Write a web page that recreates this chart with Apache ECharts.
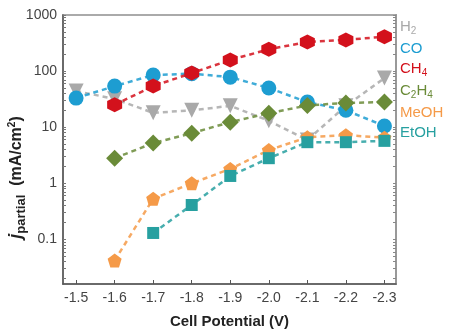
<!DOCTYPE html>
<html>
<head>
<meta charset="utf-8">
<script src="https://cdn.jsdelivr.net/npm/echarts@6/dist/echarts.min.js"></script>
<style>
  html, body { margin: 0; padding: 0; background: #fff; }
  #chart { width: 453px; height: 336px; }
</style>
</head>
<body>
<div id="chart"></div>
<script>
// cell potential (V)
var potentials = [-1.5, -1.6, -1.7, -1.8, -1.9, -2.0, -2.1, -2.2, -2.3];
// partial current densities (mA/cm2), null = not measured
var h2   = [44, 32, 18, 20, 24, 13, 5.9, 24, 75];
var co   = [33, 54, 85, 90, 78, 50, 28, 20, 10.5];
var ch4  = [null, 25, 54, 92, 158, 245, 330, 360, 410];
var c2h4 = [null, 2.8, 5.2, 7.8, 12.3, 17.8, 24.4, 27, 28];
var meoh = [null, 0.042, 0.53, 1.0, 1.8, 3.9, 6.6, 7.2, 6.5];
var etoh = [null, null, 0.13, 0.41, 1.35, 2.8, 5.4, 5.4, 5.7];

var yLabels = [0.1, 1, 10, 100, 1000];
var yMinor = [];
[0.01, 0.1, 1, 10, 100].forEach(function (d) {
  for (var k = 1; k <= 9; k++) yMinor.push(+(d * k).toPrecision(3));
});
yMinor.push(1000);

var hexagon = 'path://M0,-10 L8.66,-5 L8.66,5 L0,10 L-8.66,5 L-8.66,-5 Z';
var pentagon = 'path://M0,-10 L9.51,-3.09 L5.88,8.09 L-5.88,8.09 L-9.51,-3.09 Z';

var chart = echarts.init(document.getElementById('chart'), null, { renderer: 'canvas' });

function pairs(vals) {
  return potentials.map(function (p, i) { return [p, vals[i]]; }).filter(function (d) { return d[1] != null; });
}

function line(name, vals, color, symbol, size) {
  return {
    name: name,
    type: 'line',
    data: pairs(vals),
    symbol: symbol,
    symbolSize: size,
    itemStyle: { color: color },
    lineStyle: { color: color, width: 2.5, type: [5, 4], opacity: 0.85 },
    z: 2
  };
}

var names = ['H2', 'CO', 'CH4', 'C2H4', 'MeOH', 'EtOH'];
var colors = ['#a9a9a9', '#1d9dd1', '#d3111c', '#6a8b38', '#f59a48', '#27a0a0'];

var option = {
  animation: false,
  textStyle: { fontFamily: 'Liberation Sans, Arial, sans-serif' },
  grid: {
    left: 63, right: 57, top: 15, bottom: 52,
    outerBoundsMode: 'none',
    show: true, borderColor: '#aaa', borderWidth: 2
  },
  legend: {
    orient: 'vertical',
    left: 390, top: 14,
    icon: 'none',
    itemWidth: 0,
    itemHeight: 16,
    itemGap: 4.4,
    selectedMode: false,
    data: names.map(function (n, i) { return { name: n, textStyle: { color: colors[i] } }; }),
    formatter: function (n) {
      return n.replace(/([A-Za-z]+)/g, '{n|$1}').replace(/(\d)/g, '{s|$1}');
    },
    textStyle: {
      fontSize: 15,
      rich: {
        n: { fontSize: 15 },
        s: { fontSize: 10, padding: [9, 0, 0, 0] }
      }
    }
  },
  xAxis: {
    type: 'value',
    inverse: true,
    min: -2.33,
    max: -1.466,
    name: 'Cell Potential (V)',
    nameLocation: 'middle',
    nameGap: 30,
    nameTextStyle: { fontSize: 15, fontWeight: 'bold', color: '#222' },
    axisLine: { lineStyle: { color: '#555', width: 1.5 } },
    axisTick: { inside: true, length: 4, customValues: potentials, lineStyle: { color: '#555' } },
    axisLabel: {
      customValues: potentials,
      formatter: function (v) { return v.toFixed(1); },
      fontSize: 14, color: '#444', margin: 7
    },
    splitLine: { show: false }
  },
  yAxis: [{
    type: 'log',
    min: 0.016,
    max: 1000,
    name: '{j|j}{p|partial}  (mA/cm{s|2})',
    nameLocation: 'middle',
    nameRotate: 90,
    nameGap: 35,
    nameMoveOverlap: false,
    nameTextStyle: {
      fontSize: 16, fontWeight: 'bold', color: '#222',
      padding: [0, 56, 0, 0],
      rich: {
        j: { fontSize: 18, fontStyle: 'italic', fontWeight: 'bold', color: '#222' },
        p: { fontSize: 13, fontWeight: 'bold', color: '#222', padding: [10, 0, 0, 0] },
        s: { fontSize: 10, fontWeight: 'bold', color: '#222', padding: [0, 0, 8, 0] }
      }
    },
    axisLine: { show: true, lineStyle: { color: '#555', width: 1.5 } },
    axisTick: { inside: true, length: 3, customValues: yMinor, lineStyle: { color: '#777' } },
    axisLabel: {
      customValues: yLabels,
      formatter: function (v) { return String(v); },
      fontSize: 14, color: '#444', margin: 6
    },
    splitLine: { show: false }
  }, {
    type: 'log',
    position: 'right',
    min: 0.016,
    max: 1000,
    axisLine: { show: true, lineStyle: { color: '#999', width: 2 } },
    axisTick: { inside: true, length: 3, customValues: yMinor, lineStyle: { color: '#888' } },
    axisLabel: { show: false },
    splitLine: { show: false }
  }],
  series: [
    line('H2', h2, colors[0], 'triangle', 15),
    line('CO', co, colors[1], 'circle', 15),
    line('CH4', ch4, colors[2], hexagon, 15),
    line('C2H4', c2h4, colors[3], 'diamond', 17),
    line('MeOH', meoh, colors[4], pentagon, 14),
    line('EtOH', etoh, colors[5], 'rect', 12)
  ]
};

// H2 triangles point down
option.series[0].symbolRotate = 180;

chart.setOption(option);
</script>
</body>
</html>
